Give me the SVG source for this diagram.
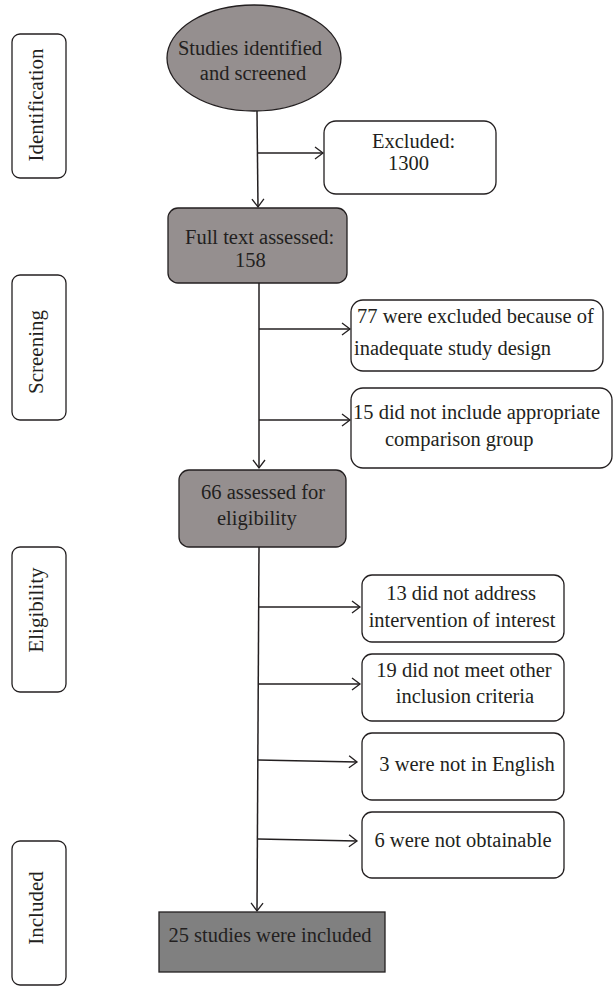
<svg xmlns="http://www.w3.org/2000/svg" width="613" height="986" viewBox="0 0 613 986">
<defs>
<marker id="arr" markerUnits="userSpaceOnUse" markerWidth="20" markerHeight="20" viewBox="-10 -10 20 20" refX="0" refY="0" orient="auto">
<path d="M-8,-6 L0,0 L-8,6" fill="none" stroke="#231f20" stroke-width="1.3"/>
</marker>
</defs>
<style>
text{font-family:"Liberation Serif","Times New Roman",serif;font-size:20.5px;fill:#231f20}
.side{font-size:21px}
.lab{fill:#fff;stroke:#231f20;stroke-width:1.3}
.gray{fill:#958f8f;stroke:#231f20;stroke-width:1.3}
.dark{fill:#808080;stroke:#231f20;stroke-width:1.3}
.box{fill:#fff;stroke:#231f20;stroke-width:1.3}
.con{fill:none;stroke:#231f20;stroke-width:1.5}
</style>
<rect width="613" height="986" fill="#fff"/>
<g id="stage-identification">
<rect class="lab" x="12" y="34" width="54" height="144" rx="8"/>
<text class="side" transform="translate(43,105) rotate(-90)" text-anchor="middle">Identification</text>
</g>
<g id="stage-screening">
<rect class="lab" x="12" y="275" width="54" height="145" rx="8"/>
<text class="side" transform="translate(43,352) rotate(-90)" text-anchor="middle">Screening</text>
</g>
<g id="stage-eligibility">
<rect class="lab" x="12" y="547" width="54" height="145" rx="8"/>
<text class="side" transform="translate(43,610) rotate(-90)" text-anchor="middle">Eligibility</text>
</g>
<g id="stage-included">
<rect class="lab" x="12" y="841" width="54" height="144" rx="8"/>
<text class="side" transform="translate(43,908) rotate(-90)" text-anchor="middle">Included</text>
</g>
<g id="connectors">
<path class="con" d="M257,111 L258,207" marker-end="url(#arr)"/>
<path class="con" d="M257,153 L323,153" marker-end="url(#arr)"/>
<path class="con" d="M259,283 L259,468" marker-end="url(#arr)"/>
<path class="con" d="M259,329 L350,329" marker-end="url(#arr)"/>
<path class="con" d="M259,420 L350,420" marker-end="url(#arr)"/>
<path class="con" d="M259,547 L257,911" marker-end="url(#arr)"/>
<path class="con" d="M259,607 L360,607" marker-end="url(#arr)"/>
<path class="con" d="M259,684 L360,684" marker-end="url(#arr)"/>
<path class="con" d="M258,760 L357,762" marker-end="url(#arr)"/>
<path class="con" d="M258,839 L357,841" marker-end="url(#arr)"/>
</g>
<g id="n-identified">
<ellipse class="gray" cx="254" cy="58" rx="87" ry="53"/>
<text x="250" y="55" text-anchor="middle">Studies identified</text>
<text x="253" y="80" text-anchor="middle">and screened</text>
</g>
<g id="n-excluded">
<rect class="box" x="324" y="121" width="172" height="73" rx="12"/>
<text x="372" y="148">Excluded:</text>
<text x="388" y="170">1300</text>
</g>
<g id="n-fulltext">
<rect class="gray" x="168" y="208" width="179" height="75" rx="10"/>
<text x="185" y="244">Full text assessed:</text>
<text x="235" y="267">158</text>
</g>
<g id="n-design">
<rect class="box" x="351" y="300" width="252" height="71" rx="12"/>
<text x="357" y="323">77 were excluded because of</text>
<text x="354" y="355">inadequate study design</text>
</g>
<g id="n-comparison">
<rect class="box" x="351" y="388" width="261" height="80" rx="12"/>
<text x="353" y="419">15 did not include appropriate</text>
<text x="385" y="446">comparison group</text>
</g>
<g id="n-eligibility">
<rect class="gray" x="179" y="470" width="167" height="77" rx="10"/>
<text x="201" y="499">66 assessed for</text>
<text x="217" y="525">eligibility</text>
</g>
<g id="n-intervention">
<rect class="box" x="362" y="575" width="202" height="67" rx="10"/>
<text x="461" y="600" text-anchor="middle">13 did not address</text>
<text x="462" y="627" text-anchor="middle">intervention of interest</text>
</g>
<g id="n-criteria">
<rect class="box" x="362" y="654" width="202" height="67" rx="10"/>
<text x="464" y="677" text-anchor="middle">19 did not meet other</text>
<text x="465" y="703" text-anchor="middle">inclusion criteria</text>
</g>
<g id="n-english">
<rect class="box" x="362" y="733" width="202" height="67" rx="10"/>
<text x="467" y="771" text-anchor="middle">3 were not in English</text>
</g>
<g id="n-obtainable">
<rect class="box" x="362" y="812" width="202" height="66" rx="10"/>
<text x="463" y="847" text-anchor="middle">6 were not obtainable</text>
</g>
<g id="n-included">
<rect class="dark" x="159" y="912" width="226" height="60"/>
<text x="270" y="942" text-anchor="middle">25 studies were included</text>
</g>
</svg>
